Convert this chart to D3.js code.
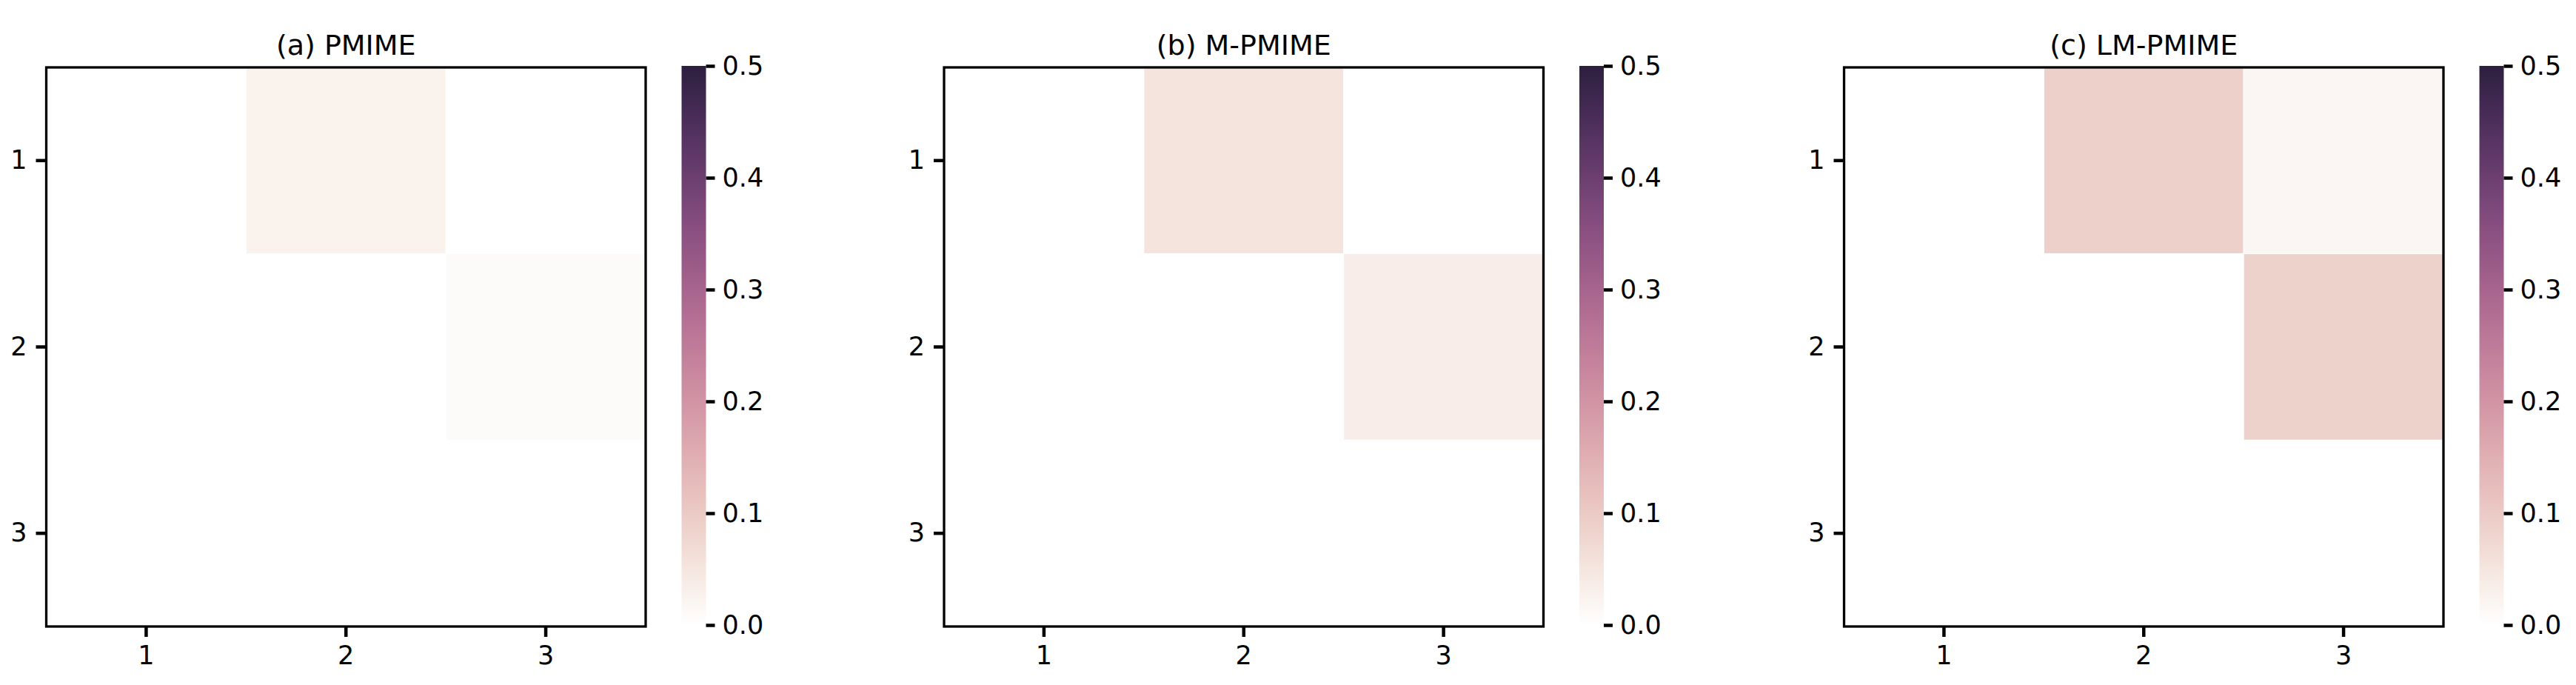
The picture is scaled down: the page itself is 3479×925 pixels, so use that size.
<!DOCTYPE html>
<html>
<head>
<meta charset="utf-8">
<script src="https://cdn.jsdelivr.net/npm/d3@7"></script>
<style>
  body { margin: 0; background: #fff; }
  text { font-family: "DejaVu Sans", sans-serif; fill: #000; }
</style>
</head>
<body>
<svg id="chart" width="3479" height="925"></svg>
<script>
// data
var rowLabels = [1, 2, 3],
    colLabels = [1, 2, 3];

var titles = ['(a) PMIME', '(b) M-PMIME', '(c) LM-PMIME'];

var pmime   = [[0, 0.026, 0], [0, 0, 0.009], [0, 0, 0]];
var mPmime  = [[0, 0.053, 0], [0, 0, 0.035], [0, 0, 0]];
var lmPmime = [[0, 0.090, 0.018], [0, 0, 0.088], [0, 0, 0]];

var cbarTicks = [0, 0.1, 0.2, 0.3, 0.4, 0.5];
var vmin = 0, vmax = 0.5;

var matrices = [pmime, mPmime, lmPmime];

// layout
var panelLeft = [62.5, 1275, 2490.5],
    axTop = 91,
    axW = 809.5,
    axH = 755,
    cbarGap = 48.5,
    cbarW = 33;

// seaborn cubehelix_palette(light=1, as_cmap=True)
function cubehelix(x) {
  var gamma = 1, hue = 0.8, start = 0, rot = 0.4;
  var xg = Math.pow(x, gamma);
  var a = hue * xg * (1 - xg) / 2;
  var phi = 2 * Math.PI * (start / 3 + rot * x);
  function ch(p0, p1) {
    var v = xg + a * (p0 * Math.cos(phi) + p1 * Math.sin(phi));
    return Math.max(0, Math.min(1, v)) * 255;
  }
  return d3.rgb(ch(-0.14861, 1.78277), ch(-0.29227, -0.90649), ch(1.97294, 0)).formatHex();
}
var light = 1, dark = 0.15;
function color(v) {
  var t = Math.max(0, Math.min(1, (v - vmin) / (vmax - vmin)));
  return cubehelix(light + (dark - light) * t);
}

var svg = d3.select('#chart');
var defs = svg.append('defs');

var grad = defs.append('linearGradient')
    .attr('id', 'cbarGrad')
    .attr('x1', 0).attr('y1', 1)
    .attr('x2', 0).attr('y2', 0);
d3.range(0, 1.0001, 0.02).forEach(function(t) {
  grad.append('stop')
      .attr('offset', t)
      .attr('stop-color', color(vmin + t * (vmax - vmin)));
});

matrices.forEach(function(m, p) {
  var g = svg.append('g')
      .attr('transform', 'translate(' + panelLeft[p] + ',' + axTop + ')');

  var x = d3.scaleBand().domain(colLabels).range([0, axW]);
  var y = d3.scaleBand().domain(rowLabels).range([0, axH]);

  var cells = [];
  m.forEach(function(row, i) {
    row.forEach(function(v, j) {
      cells.push({ r: rowLabels[i], c: colLabels[j], v: v });
    });
  });

  g.selectAll('rect.cell')
    .data(cells)
    .enter().append('rect')
      .attr('class', 'cell')
      .attr('x', function(d) { return x(d.c); })
      .attr('y', function(d) { return y(d.r); })
      .attr('width', x.bandwidth())
      .attr('height', y.bandwidth())
      .attr('fill', function(d) { return color(d.v); })
      .attr('stroke', '#fff')
      .attr('stroke-width', 1);

  // spines
  g.append('rect')
      .attr('width', axW)
      .attr('height', axH)
      .attr('fill', 'none')
      .attr('stroke', '#000')
      .attr('stroke-width', 3.3);

  var yAxis = g.append('g')
      .call(d3.axisLeft(y).tickSize(14).tickPadding(12));
  var xAxis = g.append('g')
      .attr('transform', 'translate(0,' + axH + ')')
      .call(d3.axisBottom(x).tickSize(14).tickPadding(12));

  [xAxis, yAxis].forEach(function(ax) {
    ax.select('.domain').remove();
    ax.selectAll('line').attr('stroke', '#000').attr('stroke-width', 4.5);
    ax.selectAll('text')
        .style('font-family', '"DejaVu Sans", sans-serif')
        .style('font-size', '35px')
        .attr('fill', '#000');
  });

  g.append('text')
      .attr('x', axW / 2)
      .attr('y', -17)
      .attr('text-anchor', 'middle')
      .style('font-size', '38px')
      .text(titles[p]);

  // colorbar
  var cb = g.append('g')
      .attr('transform', 'translate(' + (axW + cbarGap) + ',-2)');
  var cy = d3.scaleLinear().domain([vmin, vmax]).range([axH, 0]);

  cb.append('rect')
      .attr('width', cbarW)
      .attr('height', axH)
      .attr('fill', 'url(#cbarGrad)');

  var cAxis = cb.append('g')
      .attr('transform', 'translate(' + cbarW + ',0)')
      .call(d3.axisRight(cy).tickValues(cbarTicks).tickFormat(d3.format('.1f'))
        .tickSize(12).tickPadding(10));
  cAxis.select('.domain').remove();
  cAxis.selectAll('line').attr('stroke', '#000').attr('stroke-width', 4.5);
  cAxis.selectAll('text')
      .style('font-family', '"DejaVu Sans", sans-serif')
      .style('font-size', '35px')
      .attr('fill', '#000');
});
</script>
</body>
</html>
